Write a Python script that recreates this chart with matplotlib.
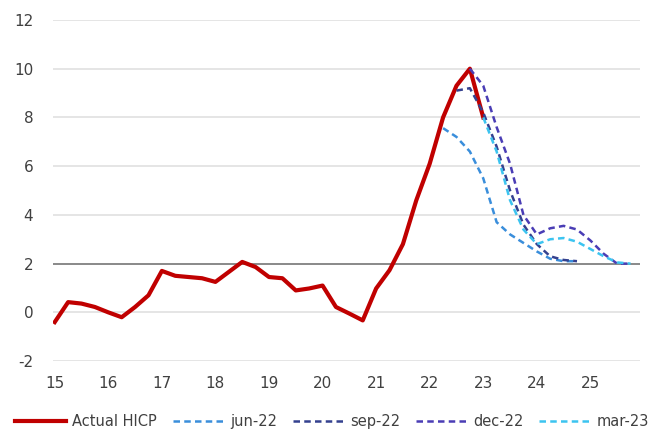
import matplotlib
matplotlib.use("Agg")
import matplotlib.pyplot as plt

plt.rcParams['axes.unicode_minus'] = False

# quarterly index: 0 = 2015Q1 ... 43 = 2025Q4
years = ['15', '16', '17', '18', '19', '20', '21', '22', '23', '24', '25']

actual = [-0.4, 0.42, 0.36, 0.22, 0.0, -0.2, 0.22, 0.7,
          1.7, 1.5, 1.45, 1.4, 1.25, 1.66, 2.07, 1.86,
          1.45, 1.4, 0.9, 0.98, 1.1, 0.22, -0.05, -0.33,
          0.98, 1.73, 2.8, 4.6, 6.1, 8.0, 9.3, 10.0, 8.0]

jun22_start = 29
jun22 = [7.56, 7.2, 6.6, 5.5, 3.7, 3.2, 2.85, 2.5, 2.2, 2.1, 2.1]

sep22_start = 30
sep22 = [9.1, 9.2, 8.2, 6.8, 5.0, 3.6, 2.8, 2.3, 2.15, 2.1]

dec22_start = 31
dec22 = [10.0, 9.3, 7.6, 6.1, 4.0, 3.2, 3.45, 3.55, 3.4, 2.95, 2.4, 2.0, 2.0]

mar23_start = 32
mar23 = [8.0, 6.6, 4.6, 3.4, 2.8, 3.0, 3.05, 2.9, 2.6, 2.3, 2.05, 2.0]

target = 2

fig = plt.figure(figsize=(6.51, 4.34), dpi=100)
ax = fig.add_axes([0.081, 0.168, 0.902, 0.786])

for y in range(-2, 13, 2):
    if y != target:
        ax.axhline(y, color='#e3e3e3', lw=1.3, zorder=0)
ax.axhline(target, color='#808080', lw=1.3, zorder=1)

dash = (0, (2.6, 1.7))
ax.plot(range(len(actual)), actual, color='#c00000', lw=3.0, label='Actual HICP',
        zorder=3, solid_joinstyle='round')
ax.plot(range(jun22_start, jun22_start + len(jun22)), jun22, color='#3a8edb',
        lw=1.8, ls=dash, label='jun-22', zorder=4)
ax.plot(range(sep22_start, sep22_start + len(sep22)), sep22, color='#34418f',
        lw=1.8, ls=dash, label='sep-22', zorder=4)
ax.plot(range(dec22_start, dec22_start + len(dec22)), dec22, color='#4a3db5',
        lw=1.8, ls=dash, label='dec-22', zorder=4)
ax.plot(range(mar23_start, mar23_start + len(mar23)), mar23, color='#3cc4f0',
        lw=1.8, ls=dash, label='mar-23', zorder=4)

ax.set_ylim(-2, 12)
ax.set_xlim(-0.15, 43.7)
ax.set_yticks(range(-2, 13, 2))
ax.set_xticks(range(0, 44, 4))
ax.set_xticklabels(years)
ax.tick_params(axis='both', length=0, labelsize=11, labelcolor='#404040')
ax.tick_params(axis='y', pad=14)
ax.tick_params(axis='x', pad=11)
for s in ax.spines.values():
    s.set_visible(False)

fig.legend(loc='center', bbox_to_anchor=(0.51, 0.028), ncol=5, frameon=False,
           fontsize=10.5, handlelength=3.5, handletextpad=0.4, columnspacing=1.1,
           labelcolor='#404040')

fig.savefig('out.png', dpi=100)
